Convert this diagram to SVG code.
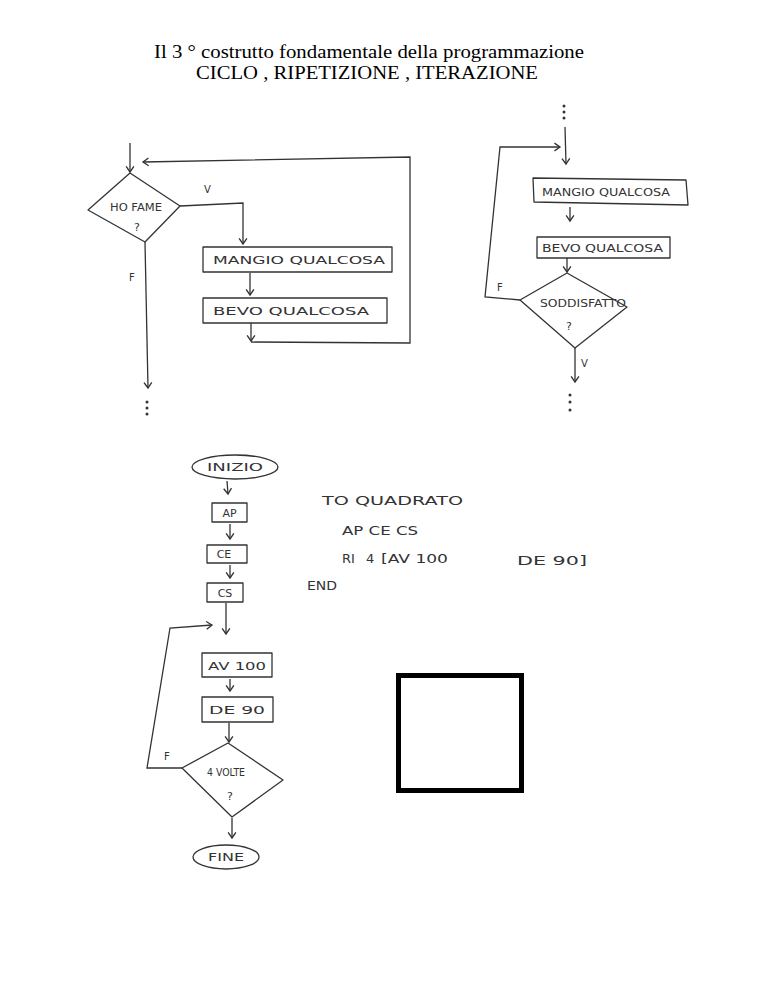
<svg xmlns="http://www.w3.org/2000/svg" width="768" height="994" viewBox="0 0 768 994">
<defs>
<marker id="arr" markerUnits="userSpaceOnUse" markerWidth="10" markerHeight="10" refX="5" refY="3.5" orient="auto" viewBox="-1 -1 8 9">
<path d="M0,0 L5,3.5 L0,7" fill="none" stroke="#333" stroke-width="1.2"/>
</marker>
</defs>
<style>
.ln{fill:none;stroke:#333;stroke-width:1.3;stroke-linejoin:round}
.ar{fill:none;stroke:#333;stroke-width:1.3;marker-end:url(#arr)}
.nd{fill:#fff;stroke:#333;stroke-width:1.3;stroke-linejoin:round}
.hw{font-family:"DejaVu Sans",sans-serif;font-size:11px;fill:#333}
.cd{font-family:"DejaVu Sans",sans-serif;font-size:13px;fill:#333}
.lb{font-family:"DejaVu Sans",sans-serif;font-size:10px;fill:#333}
.tt{font-family:"Liberation Serif",serif;font-size:18px;fill:#000}
.dot{fill:#333}
</style>
<rect width="768" height="994" fill="#fff"/>
<g id="title">
<text class="tt" x="154" y="58" textLength="430" lengthAdjust="spacingAndGlyphs">Il 3 ° costrutto fondamentale della programmazione</text>
<text class="tt" x="196" y="79" textLength="342" lengthAdjust="spacingAndGlyphs">CICLO , RIPETIZIONE , ITERAZIONE</text>
</g>
<g id="connectors">
<path class="ar" d="M130,143 L130,172"/>
<path class="ar" d="M180,206 L243,203 L243,244"/>
<path class="ar" d="M250,273 L250,295"/>
<path class="ar" d="M251,323 L251,341"/>
<path class="ar" d="M251,342 L410,343 L410,157 L143,162"/>
<path class="ar" d="M145,242 L148,388"/>
<path class="ar" d="M565,127 L566,164"/>
<path class="ar" d="M570,207 L570,221"/>
<path class="ar" d="M567,258 L567,272"/>
<path class="ar" d="M520,300 L485,297 L500,147 L560,147"/>
<path class="ar" d="M575,348 L575,382"/>
<path class="ar" d="M227,481 L228,494"/>
<path class="ar" d="M230,524 L230,539"/>
<path class="ar" d="M230,565 L230,578"/>
<path class="ar" d="M226,603 L226,634"/>
<path class="ar" d="M230,679 L230,691"/>
<path class="ar" d="M229,723 L229,742"/>
<path class="ar" d="M182,768 L147,768 L170,628 L212,625"/>
<path class="ar" d="M232,818 L232,838"/>
</g>
<g id="labels">
<text class="lb" x="204" y="193">V</text>
<text class="lb" x="129" y="281">F</text>
<text class="lb" x="497" y="291">F</text>
<text class="lb" x="581" y="367">V</text>
<text class="lb" x="164" y="760">F</text>
</g>
<g id="dots">
<circle class="dot" cx="147" cy="402" r="1.5"/><circle class="dot" cx="147" cy="408" r="1.5"/><circle class="dot" cx="147" cy="414" r="1.5"/>
<circle class="dot" cx="564" cy="106" r="1.5"/><circle class="dot" cx="564" cy="112" r="1.5"/><circle class="dot" cx="564" cy="118" r="1.5"/>
<circle class="dot" cx="570" cy="395" r="1.5"/><circle class="dot" cx="570" cy="402" r="1.5"/><circle class="dot" cx="570" cy="410" r="1.5"/>
</g>
<g id="d1">
<polygon class="nd" points="88,210 130,173 180,206 145,242"/>
<text class="hw" x="110" y="211" textLength="52" lengthAdjust="spacingAndGlyphs" font-size="10">HO FAME</text>
<text class="hw" x="134" y="231">?</text>
</g>
<g id="m1">
<rect class="nd" x="203" y="247" width="189" height="25"/>
<text class="hw" x="213" y="264" textLength="172" lengthAdjust="spacingAndGlyphs">MANGIO QUALCOSA</text>
</g>
<g id="b1">
<rect class="nd" x="203" y="298" width="184" height="25"/>
<text class="hw" x="213" y="315" textLength="156" lengthAdjust="spacingAndGlyphs">BEVO QUALCOSA</text>
</g>
<g id="m2">
<polygon class="nd" points="533,178 686,180 688,205 534,202"/>
<text class="hw" x="542" y="196" textLength="128" lengthAdjust="spacingAndGlyphs">MANGIO QUALCOSA</text>
</g>
<g id="b2">
<rect class="nd" x="537" y="237" width="133" height="21"/>
<text class="hw" x="542" y="252" textLength="121" lengthAdjust="spacingAndGlyphs">BEVO QUALCOSA</text>
</g>
<g id="d2">
<polygon class="nd" points="520,300 567,273 627,307 575,348"/>
<text class="hw" x="540" y="307" textLength="86" lengthAdjust="spacingAndGlyphs" font-size="10">SODDISFATTO</text>
<text class="hw" x="566" y="330">?</text>
</g>
<g id="start">
<ellipse class="nd" cx="235" cy="467" rx="43" ry="12"/>
<text class="hw" x="235" y="471" text-anchor="middle" textLength="56" lengthAdjust="spacingAndGlyphs">INIZIO</text>
</g>
<g id="ap">
<rect class="nd" x="212" y="503" width="35" height="19"/>
<text class="hw" x="229.5" y="517" text-anchor="middle">AP</text>
</g>
<g id="ce">
<rect class="nd" x="207" y="545" width="40" height="18"/>
<text class="hw" x="224" y="558" text-anchor="middle" font-size="10">CE</text>
</g>
<g id="cs">
<rect class="nd" x="207" y="583" width="36" height="19"/>
<text class="hw" x="225" y="597" text-anchor="middle">CS</text>
</g>
<g id="av">
<rect class="nd" x="202" y="653" width="70" height="24"/>
<text class="hw" x="237" y="670" text-anchor="middle" font-size="13" textLength="58" lengthAdjust="spacingAndGlyphs">AV 100</text>
</g>
<g id="de">
<rect class="nd" x="202" y="697" width="71" height="25"/>
<text class="hw" x="237" y="714" text-anchor="middle" font-size="12" textLength="56" lengthAdjust="spacingAndGlyphs">DE 90</text>
</g>
<g id="d3">
<polygon class="nd" points="182,768 228,743 283,780 232,817"/>
<text class="hw" x="207" y="776" font-size="10" textLength="38" lengthAdjust="spacingAndGlyphs">4 VOLTE</text>
<text class="hw" x="227" y="800">?</text>
</g>
<g id="end">
<ellipse class="nd" cx="226" cy="857" rx="33" ry="12"/>
<text class="hw" x="226" y="861" text-anchor="middle" textLength="36" lengthAdjust="spacingAndGlyphs">FINE</text>
</g>
<g id="code">
<text class="cd" x="322" y="505" textLength="141" lengthAdjust="spacingAndGlyphs">TO QUADRATO</text>
<text class="cd" x="342" y="535" textLength="76" lengthAdjust="spacingAndGlyphs">AP CE CS</text>
<text class="cd" x="342" y="563">RI</text>
<text class="cd" x="366" y="563">4</text>
<text class="cd" x="381" y="563" textLength="67" lengthAdjust="spacingAndGlyphs">[AV 100</text>
<text class="cd" x="517" y="565" textLength="70" lengthAdjust="spacingAndGlyphs">DE 90]</text>
<text class="cd" x="307" y="590" textLength="30" lengthAdjust="spacingAndGlyphs">END</text>
</g>
<g id="square">
<rect x="398.5" y="675.5" width="123" height="115" fill="none" stroke="#000" stroke-width="5"/>
</g>
</svg>
